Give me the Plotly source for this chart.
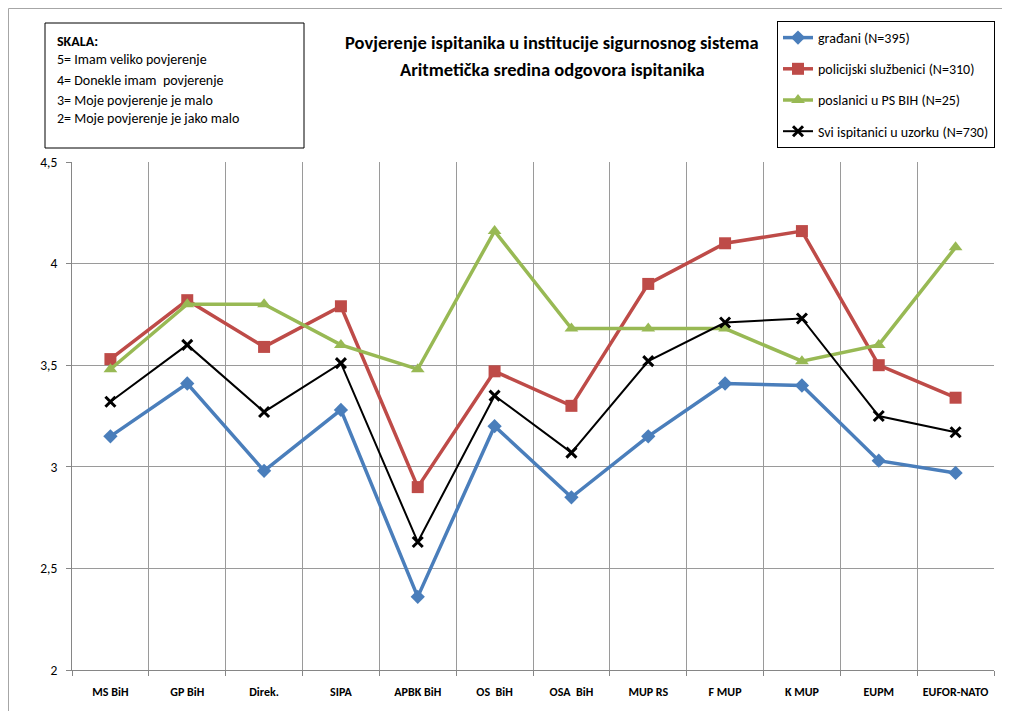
import plotly.graph_objects as go

categories = ["MS BiH", "GP BiH", "Direk.", "SIPA", "APBK BiH", "OS  BiH",
              "OSA  BiH", "MUP RS", "F MUP", "K MUP", "EUPM", "EUFOR-NATO"]

gradjani = [3.15, 3.41, 2.98, 3.28, 2.36, 3.20, 2.85, 3.15, 3.41, 3.40, 3.03, 2.97]
policija = [3.53, 3.82, 3.59, 3.79, 2.90, 3.47, 3.30, 3.90, 4.10, 4.16, 3.50, 3.34]
poslanici = [3.48, 3.80, 3.80, 3.60, 3.48, 4.16, 3.68, 3.68, 3.68, 3.52, 3.60, 4.08]
svi = [3.32, 3.60, 3.27, 3.51, 2.63, 3.35, 3.07, 3.52, 3.71, 3.73, 3.25, 3.17]

series_names = ["građani (N=395)", "policijski službenici (N=310)",
                "poslanici u PS BIH (N=25)", "Svi ispitanici u uzorku (N=730)"]

title_lines = ["Povjerenje ispitanika u institucije sigurnosnog sistema",
               "Aritmetička sredina odgovora ispitanika"]
scale_lines = ["<b>SKALA:</b>", "5= Imam veliko povjerenje", "4= Donekle imam  povjerenje",
               "3= Moje povjerenje je malo", "2= Moje povjerenje je jako malo"]

FONT = "Carlito, Lato, sans-serif"

# page is offset by 8px body margin; coordinates below are in page pixels
OFF = 8
W, H = 1010, 711
PL, PR, PT, PB = 72, 994, 162, 670   # plot area in page px
L, T = PL - OFF, PT - OFF
R = W - (PR - OFF)
B = H - (PB - OFF)
pw, ph = PR - PL, PB - PT

def px(x):
    return (x - PL) / pw

def py(y):
    return (PB - y) / ph

fig = go.Figure()
styles = [
    (gradjani, "#4A7EBB", 3.5, "diamond", 11),
    (policija, "#BE4B48", 3.5, "square", 12),
    (poslanici, "#98B954", 3.5, "triangle-up", 12),
    (svi, "#000000", 2, "x-thin-open", 10),
]
for i, (vals, col, lw, sym, ms) in enumerate(styles):
    marker = dict(symbol=sym, size=ms, color=col)
    if sym == "x-thin-open":
        marker["line"] = dict(color=col, width=3)
    fig.add_trace(go.Scatter(
        x=categories, y=vals, mode="lines+markers", name=series_names[i],
        line=dict(color=col, width=lw), marker=marker, legendgroup=str(i)))

fig.update_layout(
    width=W, height=H,
    margin=dict(l=L, r=R, t=T, b=B),
    paper_bgcolor="white", plot_bgcolor="white",
    separators=",.",
    font=dict(family=FONT, size=13, color="#000"),
    showlegend=True,
    legend=dict(x=px(777), y=py(21), xanchor="left", yanchor="top",
                bordercolor="#000", borderwidth=1, bgcolor="white",
                font=dict(size=14, family=FONT), tracegroupgap=10,
                traceorder="grouped", itemwidth=30),
    xaxis=dict(type="category", tickson="boundaries", ticks="outside", ticklen=5,
               tickcolor="#868686", showgrid=True, gridcolor="#9A9A9A", gridwidth=1,
               showline=True, linecolor="#868686", range=[-0.5, 11.5],
               tickfont=dict(size=12, family=FONT, color="#000", weight="bold"),
               ticklabelstandoff=11),
    yaxis=dict(range=[2, 4.5], dtick=0.5, tick0=2, ticks="outside", ticklen=5,
               tickcolor="#868686", showgrid=True, gridcolor="#9A9A9A", gridwidth=1,
               showline=True, linecolor="#868686", zeroline=False,
               tickfont=dict(size=13.5, family=FONT, color="#000"), ticklabelstandoff=6),
)

# outer chart border (figure edge)
fig.add_shape(type="rect", xref="paper", yref="paper",
              x0=px(OFF + 0.5), x1=px(OFF + W - 1), y0=py(OFF + H - 1), y1=py(OFF + 0.5),
              line=dict(color="#A6A6A6", width=1), layer="below")
# scale box
fig.add_shape(type="rect", xref="paper", yref="paper",
              x0=px(45), x1=px(304), y0=py(148), y1=py(23),
              line=dict(color="#000", width=1), fillcolor="white")
scale_y = [42, 60, 80, 100, 119]
for txt, yy in zip(scale_lines, scale_y):
    fig.add_annotation(xref="paper", yref="paper", x=px(55), y=py(yy),
                       xanchor="left", yanchor="middle", text=txt, showarrow=False,
                       font=dict(size=14, family=FONT, color="#000"))
# title
for txt, yy in zip(title_lines, [43, 69]):
    fig.add_annotation(xref="paper", yref="paper", x=px(552), y=py(yy),
                       xanchor="center", yanchor="middle", text="<b>" + txt + "</b>",
                       showarrow=False, font=dict(size=18.5, family=FONT, color="#000"))

fig.write_html("out.html")
